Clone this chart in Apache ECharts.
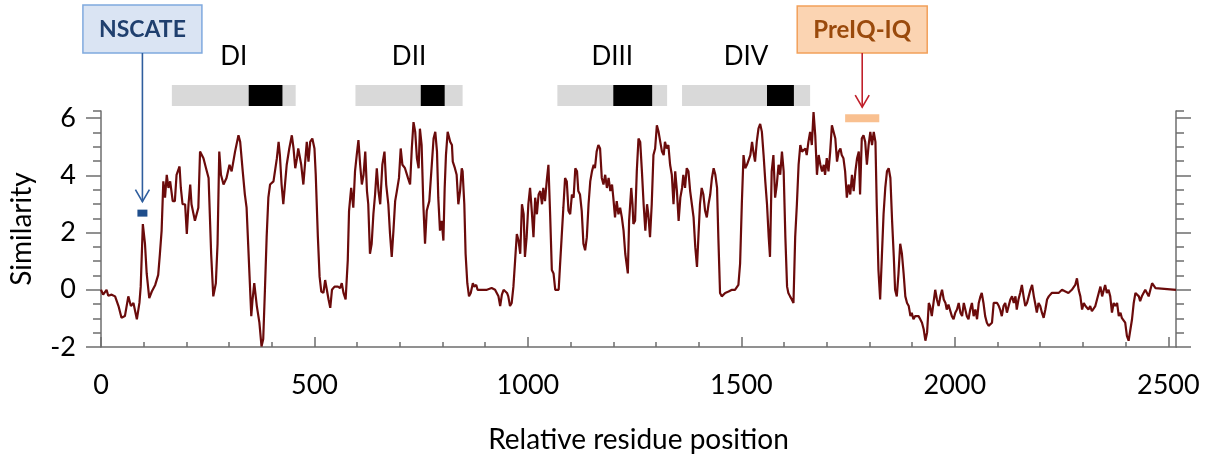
<!DOCTYPE html>
<html>
<head>
<meta charset="utf-8">
<script src="https://cdn.jsdelivr.net/npm/echarts@6/dist/echarts.min.js"></script>
<style>
html,body{margin:0;padding:0;background:#ffffff;}
#chart{width:1210px;height:459px;}
</style>
</head>
<body>
<div id="chart"></div>
<script>
// ---------- DATA ----------
// Similarity profile, [relative residue position, similarity]
const profileNterm_DI = [[0,0],[5,-0.17],[13,0],[17,-0.21],[25,-0.17],[33,-0.23],[41,-0.57],[48,-0.98],[56,-0.92],[64,-0.23],[70,-0.57],[76,-0.46],[84,-1.03],[90,-0.46],[93,0.11],[98,2.3],[103,1.61],[107,0.57],[113,-0.29],[119,-0.06],[127,0.17],[134,0.52],[138,1.26],[142,2.07],[146,3.79],[150,3.22],[154,4.02],[158,3.56],[162,3.79],[168,3.1],[173,3.1],[177,4.02],[184,4.31],[187,3.56],[191,2.99],[197,2.99],[201,1.95],[205,2.99],[209,3.68],[212,2.99],[220,2.41],[228,2.87],[232,4.83],[240,4.6],[246,4.25],[252,3.91],[258,1.26],[263,-0.23],[269,0.23],[273,1.61],[277,4.83],[281,4.02],[287,3.68],[294,3.91],[301,4.37],[306,4.14],[314,4.83],[322,5.4],[326,5.17],[332,4.14],[337,3.33],[341,2.87],[348,0.46],[352,-0.92],[355,-0.34],[359,0.23],[365,-0.57],[371,-1.15],[376,-1.98],[380,-1.72],[384,0],[388,1.84],[392,3.22],[396,3.68],[404,3.79]];
const profileDII = [[412,4.6],[416,5.17],[419,4.71],[423,3.68],[427,2.99],[431,3.68],[435,4.37],[441,4.94],[447,5.4],[451,4.94],[455,4.25],[459,4.6],[462,4.94],[469,4.37],[474,3.68],[482,5.17],[486,4.48],[490,5.17],[495,5.29],[500,4.94],[503,4.02],[508,1.84],[512,0.46],[516,-0.06],[521,-0.11],[525,0.34],[529,0],[533,-0.34],[537,-0.63],[541,0],[547,0.11],[555,0.11],[560,0.06],[564,0.23],[568,-0.11],[573,-0.34],[578,1.03],[581,2.76],[586,3.56],[591,2.87],[595,4.14],[599,4.71],[603,5.23],[607,4.37],[611,3.68],[615,4.02],[619,4.83],[623,3.45],[626,2.99],[630,1.26],[634,1.61],[638,2.64],[642,3.33],[646,4.25],[650,3.45],[654,2.99],[659,4.37],[664,4.83],[668,3.68],[673,2.99],[677,1.95],[681,1.15],[685,2.07],[689,3.1],[693,3.45],[698,3.91],[702,4.94],[706,4.37],[712,4.25],[719,3.91],[724,3.68],[728,4.94],[732,5.86],[736,5.52],[740,4.6],[744,4.25],[747,5.63],[751,5.06],[755,2.99],[759,1.61],[763,2.76],[769,3.1],[773,3.1],[779,5.29],[783,5.52],[787,4.83],[790,3.22],[794,2.07],[798,2.41],[802,1.72],[805,3.56],[808,4.71],[812,5.52],[818,5.17]];
const profileDIII = [[822,5.06],[824,4.48],[829,4.25],[833,4.02],[837,2.99],[841,3.45],[845,4.25],[847,4.14],[851,2.99],[854,1.26],[858,0.23],[862,-0.23],[866,-0.11],[871,0.23],[874,0.11],[879,0.17],[882,0],[892,0],[904,0],[915,0.06],[923,0],[927,0],[931,-0.23],[935,-0.57],[939,-0.17],[943,0],[947,0],[951,-0.11],[954,-0.23],[958,-0.57],[962,-0.46],[966,0.11],[970,1.03],[974,1.95],[978,1.72],[982,1.26],[986,2.99],[990,2.64],[993,1.15],[997,1.84],[1001,2.99],[1005,3.56],[1009,2.76],[1013,1.84],[1017,3.22],[1021,2.64],[1025,3.33],[1029,3.45],[1033,2.99],[1036,3.56],[1040,3.1],[1044,3.79],[1048,4.37],[1052,2.64],[1056,0.69],[1060,0.57],[1064,0],[1068,0],[1072,0],[1075,0.8],[1079,1.84],[1083,2.87],[1087,3.91],[1091,3.79],[1095,2.76],[1099,2.64],[1103,3.33],[1107,3.22],[1111,4.25],[1115,4.14],[1118,3.45],[1122,3.33],[1126,2.76],[1130,1.61],[1134,1.38],[1138,1.84],[1142,2.99],[1146,3.79],[1150,4.14],[1154,4.37],[1157,4.25],[1161,4.83],[1165,5.06],[1169,4.94],[1173,3.91],[1177,3.68],[1181,4.02],[1185,3.56],[1189,3.91],[1193,3.45],[1197,3.68],[1200,3.22],[1204,2.53],[1208,3.1],[1212,2.64],[1216,2.87],[1220,2.53],[1224,2.07],[1228,1.26],[1234,0.57]];
const profileDIV = [[1237,2.41],[1242,3.56],[1245,2.99],[1247,2.3],[1251,2.41],[1255,4.14],[1259,5.29],[1263,5.17],[1267,4.14],[1271,2.99],[1275,2.07],[1279,2.99],[1282,2.64],[1286,1.84],[1290,2.99],[1294,4.71],[1298,4.94],[1302,5.75],[1306,5.52],[1310,5.17],[1314,4.83],[1318,4.71],[1321,5.17],[1325,4.94],[1329,5.06],[1333,4.37],[1337,4.02],[1341,2.99],[1345,4.14],[1349,3.45],[1353,2.41],[1357,3.22],[1361,3.56],[1364,4.02],[1368,3.56],[1372,4.25],[1376,4.14],[1380,3.45],[1384,2.99],[1388,2.53],[1392,1.49],[1396,0.8],[1400,2.07],[1403,2.99],[1407,3.56],[1411,3.33],[1415,2.76],[1419,2.53],[1423,2.99],[1427,3.33],[1431,3.91],[1435,4.25],[1439,4.02],[1443,3.56],[1446,1.84],[1450,-0.11],[1454,-0.23],[1462,-0.11],[1470,-0.06],[1478,0],[1485,0],[1493,0.17],[1497,0.92],[1501,2.99],[1505,4.71],[1509,4.25],[1513,4.37],[1517,4.37],[1521,4.71],[1525,5.17],[1528,4.83],[1532,4.48],[1536,5.17],[1540,5.63],[1544,5.8],[1548,5.52],[1552,4.71],[1556,3.79],[1560,2.99],[1564,1.84],[1567,1.15],[1571,4.14],[1575,4.71],[1579,3.22],[1583,3.68],[1587,4.37],[1591,4.02],[1595,4.83],[1599,4.14],[1603,1.84],[1607,0.11],[1610,-0.11],[1614,-0.23],[1618,-0.34],[1622,-0.46],[1626,1.84],[1630,2.99],[1634,4.37],[1638,5.06],[1642,4.83]];
const profileCterm = [[1646,4.83],[1650,4.94],[1653,4.71],[1657,5.17],[1661,5.52],[1665,5.06],[1669,6.21],[1673,5.4],[1677,4.02],[1681,4.71],[1685,4.37],[1689,4.14],[1693,4.37],[1696,4.02],[1700,4.6],[1704,4.14],[1708,4.83],[1712,5.75],[1716,5.75],[1720,5.29],[1724,4.48],[1728,4.83],[1732,4.94],[1735,4.71],[1739,4.6],[1743,4.14],[1747,3.22],[1751,3.68],[1755,3.33],[1759,4.02],[1763,3.45],[1767,4.14],[1771,4.6],[1775,4.83],[1778,3.33],[1782,5.29],[1786,5.4],[1790,5.17],[1794,4.37],[1798,5.06],[1802,5.52],[1806,5.06],[1810,5.52],[1814,5.17],[1817,2.99],[1821,0.69],[1825,-0.34],[1829,1.15],[1833,2.64],[1837,3.56],[1841,4.14],[1845,4.25],[1849,3.91],[1853,2.41],[1857,1.15],[1860,0],[1864,-0.23],[1868,0.57],[1872,1.61],[1876,1.26],[1880,0.57],[1884,-0.23],[1888,-0.46],[1892,-0.57],[1896,-0.92],[1899,-0.8],[1903,-1.03],[1907,-0.92],[1911,-0.92],[1915,-0.92],[1919,-1.03],[1923,-1.15],[1927,-1.38],[1931,-1.78],[1935,-1.49],[1939,-0.46],[1942,-0.57],[1946,-0.92],[1950,-0.46],[1954,0],[1958,-0.34],[1962,-0.57],[1966,-0.23],[1970,0],[1974,-0.34],[1978,-0.46],[1981,-0.69],[1985,-0.52],[1989,-0.57],[1993,-0.92],[1997,-1.03],[2001,-0.8],[2005,-0.69],[2009,-0.46],[2013,-0.8],[2017,-0.92],[2021,-0.46],[2024,-0.46],[2028,-0.92],[2032,-1.03],[2036,-0.69],[2040,-0.46],[2044,-0.92],[2048,-0.69],[2052,-1.03],[2056,-0.46],[2060,-0.23],[2063,-0.11],[2067,-0.46],[2071,-0.92],[2075,-1.15],[2079,-1.26],[2083,-1.32],[2087,-1.15],[2091,-0.46],[2095,-0.4],[2099,-0.46],[2103,-0.57],[2106,-0.69],[2110,-0.92],[2114,-0.57],[2118,-0.46],[2122,-0.8],[2126,-0.57],[2130,-0.34],[2134,-0.23],[2138,-0.46],[2142,-0.23],[2145,-0.69],[2149,-0.34],[2153,-0.11],[2157,0.17],[2161,-0.23],[2165,-0.57],[2169,-0.46],[2173,-0.23],[2177,0],[2181,0.17],[2185,-0.23],[2188,-0.46],[2192,-0.8],[2196,-0.46],[2200,-0.57],[2204,-0.8],[2208,-0.98],[2212,-0.69],[2216,-0.34],[2220,-0.23],[2224,-0.17],[2227,-0.11],[2231,-0.17],[2235,-0.11],[2239,-0.06],[2243,-0.11],[2247,-0.11],[2251,0],[2255,0],[2259,-0.06],[2263,-0.11],[2266,-0.11],[2270,-0.06],[2274,0],[2278,0],[2282,0.17],[2286,0.4],[2290,0],[2294,-0.23],[2298,-0.69],[2302,-0.46],[2306,-0.57],[2309,-0.52],[2313,-0.69],[2317,-0.57],[2321,-0.75],[2325,-0.8],[2329,-0.57],[2333,-0.34],[2337,-0.11],[2341,0.11],[2345,-0.23],[2349,0],[2352,0.17],[2356,-0.11],[2360,0],[2364,-0.23],[2368,-0.8],[2372,-0.46],[2376,-0.57],[2380,-0.46],[2384,-0.92],[2388,-0.8],[2391,-0.98],[2395,-1.03],[2399,-1.15],[2403,-1.61],[2407,-1.78],[2411,-1.72],[2415,-1.03],[2419,-0.46],[2423,-0.11],[2427,-0.06],[2431,-0.23],[2434,-0.4],[2438,-0.23],[2442,-0.17],[2446,0],[2450,-0.11],[2454,-0.23],[2458,0],[2462,0.23],[2466,0.29],[2470,0.06],[2473,0],[2518,0]];

// Axis tick labels
const xTickValues = [0, 500, 1000, 1500, 2000, 2500];
const yTickValues = [-2, 0, 2, 4, 6];

// Domains DI-DIV (grey extents) and their pore regions (black)
const domainNames = ['DI', 'DII', 'DIII', 'DIV'];
const domainStart = [166, 596, 1069, 1361];
const domainEnd   = [456, 847, 1326, 1661];
const poreStart   = [346, 749, 1200, 1560];
const poreEnd     = [425, 805, 1291, 1623];

// Annotated motifs
const nscateLabel = 'NSCATE';
const nscatePosition = [97];
const nscateLevel = [2.68];
const preiqLabel = 'PreIQ-IQ';
const preiqStart = [1743];
const preiqEnd = [1823];
const preiqLevel = [6.0];

// ---------- CHART ----------
const X_MAX = 2518, Y_MIN = -2, Y_MAX = 6.25;
const FONT = 'Lato, "Open Sans", sans-serif';
const AXIS_COLOR = '#6e6e6e';
const LINE_COLOR = '#6b0b0b';

const profile = [].concat(profileNterm_DI, profileDII, profileDIII, profileDIV, profileCterm);

const xMinor = []; for (let v = 0; v <= 2500; v += 100) xMinor.push(v);
const yMinor = []; for (let v = -2; v <= 6; v += 0.5) yMinor.push(v); yMinor.push(Y_MAX);

const chart = echarts.init(document.getElementById('chart'), null, {renderer: 'canvas'});

function xAxisDef(major) {
  return {
    type: 'value', min: 0, max: X_MAX, position: 'bottom',
    axisLine: {show: major, onZero: false, lineStyle: {color: AXIS_COLOR, width: 1.5}},
    axisTick: {show: true, inside: true, length: major ? 10 : 5,
      customValues: major ? xTickValues : xMinor,
      lineStyle: {color: AXIS_COLOR, width: 1.5}},
    axisLabel: major ? {show: true, customValues: xTickValues, margin: 25,
      formatter: v => String(v),
      fontSize: 27, fontFamily: FONT, color: '#000'} : {show: false},
    splitLine: {show: false},
    name: major ? 'Relative residue position' : '',
    nameLocation: 'middle', nameGap: 79,
    nameTextStyle: {fontSize: 28, fontFamily: FONT, color: '#000'}
  };
}
function yAxisDef(major, side) {
  const left = side === 'left';
  return {
    type: 'value', min: Y_MIN, max: Y_MAX, position: side,
    axisLine: {show: major, onZero: false, lineStyle: {color: AXIS_COLOR, width: 1.5}},
    axisTick: {show: true, inside: false, length: major ? 15 : 8,
      customValues: major ? yTickValues : yMinor,
      lineStyle: {color: AXIS_COLOR, width: 1.5}},
    axisLabel: (major && left) ? {show: true, customValues: yTickValues, margin: 25,
      formatter: v => String(v),
      fontSize: 27, fontFamily: FONT, color: '#000'} : {show: false},
    splitLine: {show: false},
    name: (major && left) ? 'Similarity' : '',
    nameLocation: 'middle', nameGap: 65, nameRotate: 90,
    nameTextStyle: {fontSize: 28, fontFamily: FONT, color: '#000'}
  };
}

function arrowHead(cx, tipY, color) {
  return {type: 'polyline', shape: {points: [[cx - 7, tipY - 12], [cx, tipY], [cx + 7, tipY - 12]]},
    style: {stroke: color, lineWidth: 1.6, fill: null}};
}

const option = {
  animation: false,
  backgroundColor: '#ffffff',
  grid: {left: 101, right: 34, top: 111, bottom: 109, containLabel: false},
  xAxis: [xAxisDef(true), xAxisDef(false)],
  yAxis: [yAxisDef(true, 'left'), yAxisDef(false, 'left'), yAxisDef(true, 'right'), yAxisDef(false, 'right')],
  series: [
    {
      type: 'line', xAxisIndex: 0, yAxisIndex: 0,
      data: profile, symbol: 'none', sampling: 'none',
      lineStyle: {color: LINE_COLOR, width: 2.2}, z: 3
    },
    {
      // domain bars with pore regions and labels
      type: 'custom', xAxisIndex: 0, yAxisIndex: 0, clip: false, silent: true, z: 5,
      data: domainNames.map((n, i) => [domainStart[i], domainEnd[i], poreStart[i], poreEnd[i]]),
      encode: {x: [0, 1, 2, 3]},
      renderItem: function (params, api) {
        const top = api.coord([0, Y_MAX])[1];
        const x0 = api.coord([api.value(0), Y_MAX])[0];
        const x1 = api.coord([api.value(1), Y_MAX])[0];
        const p0 = api.coord([api.value(2), Y_MAX])[0];
        const p1 = api.coord([api.value(3), Y_MAX])[0];
        const barTop = top - 26, barH = 21;
        return {type: 'group', children: [
          {type: 'rect', shape: {x: x0, y: barTop, width: x1 - x0, height: barH}, style: {fill: '#d9d9d9'}},
          {type: 'rect', shape: {x: p0, y: barTop, width: p1 - p0, height: barH}, style: {fill: '#000000'}},
          {type: 'text', style: {text: domainNames[params.dataIndex], x: (x0 + x1) / 2, y: top - 54,
            align: 'center', verticalAlign: 'middle', fontSize: 26, fontFamily: FONT, fill: '#000'}}
        ]};
      }
    },
    {
      // NSCATE callout
      type: 'custom', xAxisIndex: 0, yAxisIndex: 0, clip: false, silent: true, z: 6,
      data: nscatePosition.map((p, i) => [p, nscateLevel[i]]),
      encode: {x: 0, y: 1},
      renderItem: function (params, api) {
        const pt = api.coord([api.value(0), api.value(1)]);
        const top = api.coord([0, Y_MAX])[1];
        const cx = pt[0];
        const boxW = 119, boxH = 48, boxTop = top - 106;
        const tip = pt[1] - 11.5;
        const blue = '#2f5e9e';
        return {type: 'group', children: [
          {type: 'rect', shape: {x: cx - boxW / 2, y: boxTop, width: boxW, height: boxH},
            style: {fill: '#dae4f3', stroke: '#7fa9de', lineWidth: 1.5}},
          {type: 'text', style: {text: nscateLabel, x: cx, y: boxTop + boxH / 2 + 1, align: 'center', verticalAlign: 'middle',
            fontSize: 23, fontWeight: 'bold', fontFamily: FONT, fill: '#1f3f6e'}},
          {type: 'line', shape: {x1: cx, y1: boxTop + boxH, x2: cx, y2: tip}, style: {stroke: blue, lineWidth: 1.6}},
          arrowHead(cx, tip, blue),
          {type: 'rect', shape: {x: cx - 5, y: pt[1] - 3.5, width: 10, height: 7}, style: {fill: '#1f4e8c'}}
        ]};
      }
    },
    {
      // PreIQ-IQ callout
      type: 'custom', xAxisIndex: 0, yAxisIndex: 0, clip: false, silent: true, z: 6,
      data: preiqStart.map((s, i) => [s, preiqEnd[i], preiqLevel[i]]),
      encode: {x: [0, 1], y: 2},
      renderItem: function (params, api) {
        const a = api.coord([api.value(0), api.value(2)]);
        const b = api.coord([api.value(1), api.value(2)]);
        const top = api.coord([0, Y_MAX])[1];
        const cx = (a[0] + b[0]) / 2;
        const boxW = 130, boxH = 47, boxTop = top - 105;
        const tip = a[1] - 11;
        const red = '#c0202a';
        return {type: 'group', children: [
          {type: 'rect', shape: {x: cx - boxW / 2, y: boxTop, width: boxW, height: boxH},
            style: {fill: '#fbd4b2', stroke: '#f2a05a', lineWidth: 1.5}},
          {type: 'text', style: {text: preiqLabel, x: cx, y: boxTop + boxH / 2 + 1, align: 'center', verticalAlign: 'middle',
            fontSize: 24, fontWeight: 'bold', fontFamily: FONT, fill: '#9a4a0c'}},
          {type: 'line', shape: {x1: cx, y1: boxTop + boxH, x2: cx, y2: tip}, style: {stroke: red, lineWidth: 1.6}},
          arrowHead(cx, tip, red),
          {type: 'rect', shape: {x: a[0], y: a[1] - 4, width: b[0] - a[0], height: 8}, style: {fill: '#f9c090'}}
        ]};
      }
    }
  ]
};
chart.setOption(option);
</script>
</body>
</html>
